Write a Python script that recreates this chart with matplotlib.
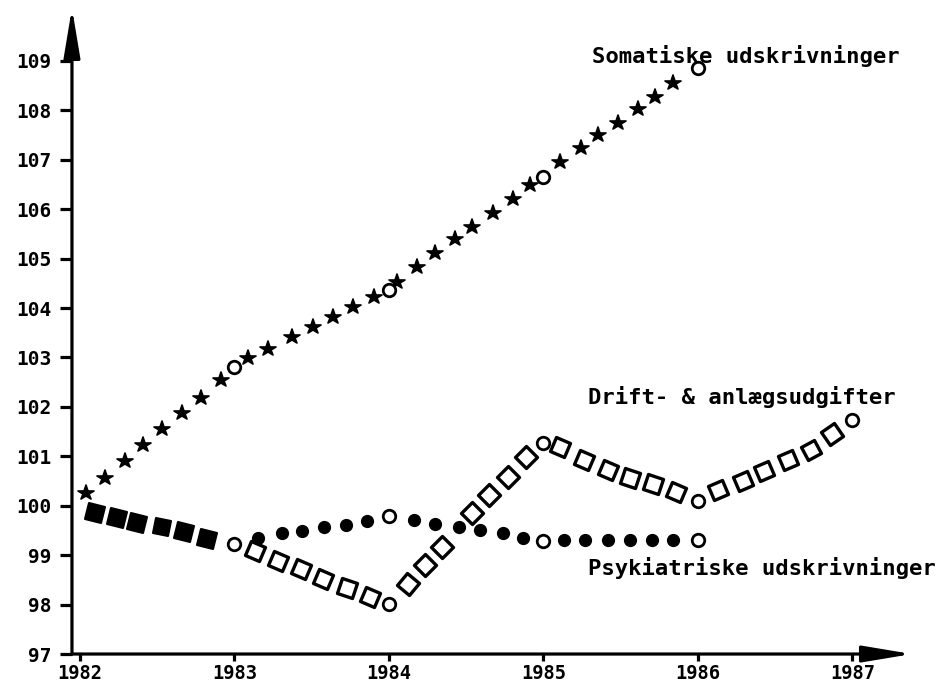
import numpy as np
import matplotlib.pyplot as plt
from matplotlib.markers import MarkerStyle
from matplotlib.transforms import Affine2D

years = [1982, 1983, 1984, 1985, 1986, 1987]
index_ticks = list(range(97, 110))

# Somatiske udskrivninger (stjerner), cirkler ved aarsskift
soma_x = [1982.04, 1982.16, 1982.29, 1982.41, 1982.53, 1982.66, 1982.78, 1982.91,
          1983.09, 1983.22, 1983.37, 1983.51, 1983.64, 1983.77, 1983.90,
          1984.05, 1984.18, 1984.30, 1984.43, 1984.54, 1984.67, 1984.80, 1984.91,
          1985.11, 1985.24, 1985.35, 1985.48, 1985.61, 1985.72, 1985.84]
soma_y = [100.25, 100.57, 100.91, 101.22, 101.56, 101.87, 102.19, 102.54,
          102.98, 103.18, 103.41, 103.61, 103.81, 104.02, 104.22,
          104.52, 104.83, 105.11, 105.39, 105.64, 105.92, 106.20, 106.49,
          106.95, 107.24, 107.50, 107.74, 108.03, 108.27, 108.55]
soma_ring_x = [1983, 1984, 1985, 1986]
soma_ring_y = [102.80, 104.36, 106.65, 108.86]

# faelles forloeb 1982-83 (fyldte firkanter)
common_x = [1982.10, 1982.24, 1982.37, 1982.53, 1982.67, 1982.82]
common_y = [99.86, 99.76, 99.66, 99.56, 99.46, 99.33]
common_ring_x = [1983]
common_ring_y = [99.23]

# Drift- & anlaegsudgifter (aabne firkanter)
drift_x = [1983.13, 1983.28, 1983.43, 1983.57, 1983.73, 1983.88,
           1984.12, 1984.23, 1984.34, 1984.54, 1984.65, 1984.77, 1984.89,
           1985.11, 1985.26, 1985.42, 1985.56, 1985.71, 1985.86,
           1986.13, 1986.29, 1986.43, 1986.58, 1986.73, 1986.87]
drift_y = [99.09, 98.89, 98.73, 98.52, 98.34, 98.16,
           98.42, 98.81, 99.17, 99.86, 100.21, 100.59, 100.98,
           101.18, 100.92, 100.73, 100.57, 100.45, 100.27,
           100.31, 100.51, 100.71, 100.92, 101.12, 101.46]
drift_ring_x = [1984, 1985, 1986, 1987]
drift_ring_y = [98.02, 101.26, 100.10, 101.73]

# Psykiatriske udskrivninger (fyldte prikker)
psyk_x = [1983.15, 1983.31, 1983.44, 1983.58, 1983.72, 1983.86,
          1984.16, 1984.30, 1984.45, 1984.59, 1984.74, 1984.87,
          1985.13, 1985.27, 1985.42, 1985.56, 1985.70, 1985.84]
psyk_y = [99.35, 99.44, 99.48, 99.56, 99.62, 99.70,
          99.72, 99.64, 99.58, 99.50, 99.44, 99.35,
          99.30, 99.30, 99.30, 99.30, 99.30, 99.30]
psyk_ring_x = [1984, 1985, 1986]
psyk_ring_y = [99.80, 99.29, 99.30]

mono = 'DejaVu Sans Mono'

fig = plt.figure(figsize=(9.42, 6.87), dpi=100)
ax = fig.add_axes([0.0764, 0.048, 0.8917, 0.9403])
ax.set_xlim(1981.948, 1987.385)
ax.set_ylim(97, 110.07)
for s in ax.spines.values():
    s.set_visible(False)

# akser med pile
arrow = dict(arrowstyle='-|>,head_length=1.5,head_width=0.25', lw=2.3,
             color='black', shrinkA=0, shrinkB=0, mutation_scale=20)
ax.annotate('', xy=(0, 1), xytext=(0, 0), xycoords='axes fraction', arrowprops=arrow)
ax.annotate('', xy=(1, 0), xytext=(0, 0), xycoords='axes fraction', arrowprops=arrow)

ax.set_xticks(years)
ax.set_yticks(index_ticks)
ax.set_xticklabels([str(y) for y in years], fontfamily=mono, fontweight='bold', fontsize=13.5)
ax.set_yticklabels([str(v) for v in index_ticks], fontfamily=mono, fontweight='bold', fontsize=14)
ax.tick_params(axis='y', direction='out', length=9, width=2.3, pad=6)
ax.tick_params(axis='x', direction='out', length=5, width=2.3, pad=2.5)


def angles(xs, ys):
    pts = ax.transData.transform(np.column_stack([xs, ys]))
    d = np.gradient(pts, axis=0)
    return np.degrees(np.arctan2(d[:, 1], d[:, 0]))


# firkanter drejet efter kurvens haeldning
path_x = np.array(common_x + common_ring_x + drift_x + drift_ring_x, dtype=float)
path_y = np.array(common_y + common_ring_y + drift_y + drift_ring_y, dtype=float)
order = np.argsort(path_x)
path_x, path_y = path_x[order], path_y[order]
ang = angles(path_x, path_y)
lookup = {round(x, 3): a for x, a in zip(path_x, ang)}

for x, y in zip(common_x, common_y):
    m = MarkerStyle('s', transform=Affine2D().rotate_deg(lookup[round(x, 3)]), joinstyle='round')
    ax.plot(x, y, marker=m, ms=11.5, color='black', mew=1.5, linestyle='none')

for x, y in zip(drift_x, drift_y):
    m = MarkerStyle('s', transform=Affine2D().rotate_deg(lookup[round(x, 3)]), joinstyle='round')
    ax.plot(x, y, marker=m, ms=11, mfc='white', mec='black', mew=2.4, linestyle='none')

ax.plot(soma_x, soma_y, linestyle='none', marker=MarkerStyle('*', joinstyle='round'),
        ms=11.5, color='black', mew=1.2)
ax.plot(psyk_x, psyk_y, linestyle='none', marker='o', ms=8.5, color='black')

rings_x = soma_ring_x + common_ring_x + drift_ring_x + psyk_ring_x
rings_y = soma_ring_y + common_ring_y + drift_ring_y + psyk_ring_y
ax.plot(rings_x, rings_y, linestyle='none', marker='o', ms=9, mfc='white',
        mec='black', mew=2)

txt = dict(fontfamily=mono, fontweight='bold', fontsize=16, va='center', ha='left')
ax.text(1985.314, 109.10, 'Somatiske udskrivninger', **txt)
ax.text(1985.288, 102.21, 'Drift- & anlægsudgifter', **txt)
ax.text(1985.288, 98.75, 'Psykiatriske udskrivninger', **txt)

fig.savefig('out.png', dpi=100)
